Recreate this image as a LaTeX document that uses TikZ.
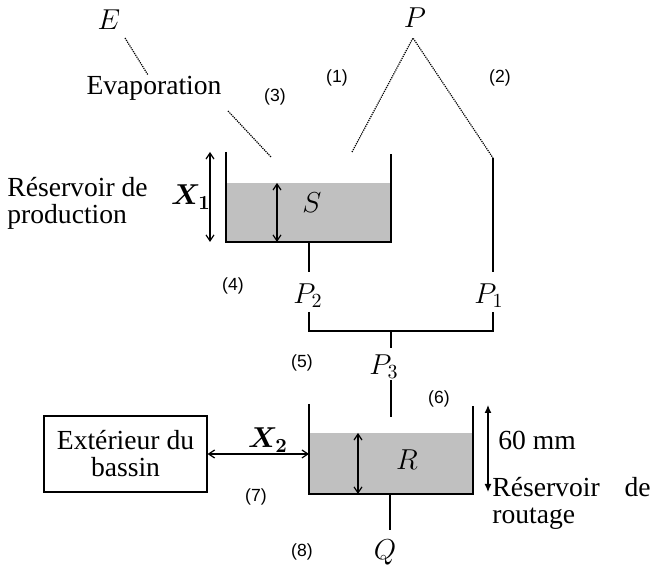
\documentclass[tikz,border=0pt]{standalone}
\usepackage{amsmath}
\usepackage{amssymb}
\usepackage{bm}
\usepackage{fontspec}
\setmainfont{Liberation Serif}
\newfontfamily\numfont{Liberation Sans}
\usetikzlibrary{arrows.meta}
\definecolor{water}{HTML}{C0C0C0}

\begin{document}
\begin{tikzpicture}[x=0.5pt,y=-0.5pt,
    wall/.style={line width=0.6pt},
    flux/.style={dash pattern=on 0.6pt off 0.5pt, line width=0.6pt},
    lbl/.style={font=\fontsize{13.8}{13.5}\selectfont, inner sep=0pt},
    num/.style={font=\numfont\fontsize{8.8}{10}\selectfont, inner sep=0pt},
    level/.style={line width=0.6pt, {Straight Barb[length=3pt,width=4pt]}-{Straight Barb[length=3pt,width=4pt]}}]
    \useasboundingbox (0,0) rectangle (650,567);

    % rain and evaporation
    \node[lbl] (E) at (109,20) {$E$};
    \node[lbl] (P) at (415,18) {$P$};
    \node[lbl] (evap) at (154,88) {Evaporation};
    \coordinate (apex) at (413,38);
    \coordinate (rainS) at (352,152);
    \coordinate (rainR) at (493,158);
    \draw[flux] (125,38) -- (148,75);
    \draw[flux] (228,111) -- (271,157);
    \draw[flux] (rainS) -- (apex) -- (rainR);

    % production store
    \fill[water] (226,183) rectangle (391,242);
    \draw[wall] (226,152) -- (226,242) -- (391,242) -- (391,154);
    \draw[level] (210,152) -- (210,242);
    \draw[level] (277,183) -- (277,242);
    \node[lbl] (X1) at (191,197) {$\bm{X_1}$};
    \node[lbl] (S) at (312,203) {$S$};
    \node[lbl, align=left, anchor=west] (prod) at (7,203) {R\'eservoir de\\production};

    % percolation and effective rain
    \node[lbl] (P2) at (308,296) {$P_2$};
    \node[lbl] (P1) at (489,296) {$P_1$};
    \node[lbl] (P3) at (384,367) {$P_3$};
    \draw[wall] (309,242) -- (309,272);
    \draw[wall] (rainR) -- (493,272);
    \coordinate (join) at (391,331);
    \draw[wall] (309,312) -- (309,331) -- (493,331) -- (493,312);
    \draw[wall] (join) -- (391,348);
    \draw[wall] (391,380) -- (391,417);

    % routing store
    \fill[water] (309,433) rectangle (473,494);
    \draw[wall] (309,404) -- (309,494) -- (473,494) -- (473,406);
    \draw[level] (358,433) -- (358,494);
    \node[lbl] (R) at (407,460) {$R$};
    \draw[line width=0.6pt, {Latex[length=4pt,width=3.5pt]}-{Latex[length=4pt,width=3.5pt]}] (488,405) -- (488,492);
    \node[lbl] (cap) at (537,440) {60 mm};
    \node[lbl, align=left, anchor=west] (rout) at (492,503) {R\'eservoir\hspace{0.65em} de\\routage};
    \draw[wall] (390,494) -- (390,530);
    \node[lbl] (Q) at (385,552) {$Q$};

    % exchange with outside
    \node[lbl, draw, line width=0.6pt, minimum width=81.5pt, minimum height=38pt, align=center] (ext) at (125.5,454) {Ext\'erieur du\\bassin};
    \coordinate (wallR) at (309,454);
    \draw[level] (ext.east) -- (wallR);
    \node[lbl] (X2) at (268,440) {$\bm{X_2}$};

    % flux numbers
    \node[num] (n1) at (337,78) {(1)};
    \node[num] (n2) at (500,78) {(2)};
    \node[num] (n3) at (275,97) {(3)};
    \node[num] (n4) at (233,286) {(4)};
    \node[num] (n5) at (302,363) {(5)};
    \node[num] (n6) at (439,399) {(6)};
    \node[num] (n7) at (256,497) {(7)};
    \node[num] (n8) at (302,552) {(8)};
\end{tikzpicture}
\end{document}
